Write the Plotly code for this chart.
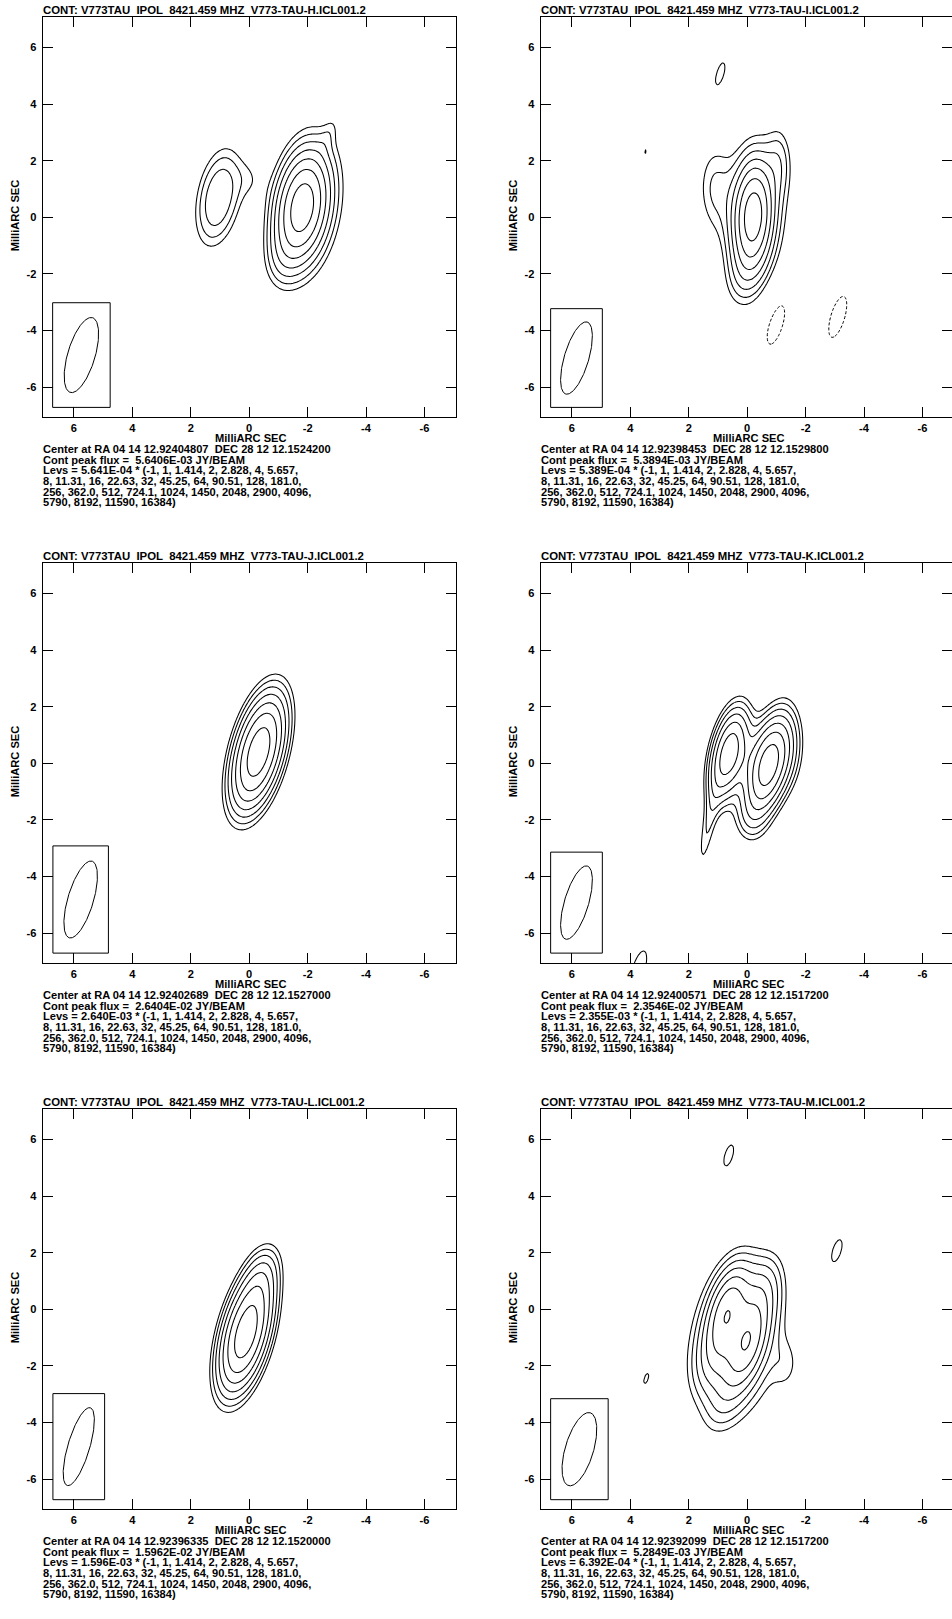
import numpy as np
import plotly.graph_objects as go

W, H = 952, 1619

# ---------------- data ----------------
PANEL_IDS = ["H", "I", "J", "K", "L", "M"]
CENTER_RA = ["12.92404807", "12.92398453", "12.92402689", "12.92400571", "12.92396335", "12.92392099"]
CENTER_DEC = ["12.1524200", "12.1529800", "12.1527000", "12.1517200", "12.1520000", "12.1517200"]
PEAK_FLUX = [5.6406e-3, 5.3894e-3, 2.6404e-2, 2.3546e-2, 1.5962e-2, 5.2849e-3]
BASE_LEVEL = [5.641e-4, 5.389e-4, 2.640e-3, 2.355e-3, 1.596e-3, 6.392e-4]

LEV_LABELS = ["-1", "1", "1.414", "2", "2.828", "4", "5.657",
              "8", "11.31", "16", "22.63", "32", "45.25", "64", "90.51", "128", "181.0",
              "256", "362.0", "512", "724.1", "1024", "1450", "2048", "2900", "4096",
              "5790", "8192", "11590", "16384"]
LEV_MULT = [float(s) for s in LEV_LABELS]
LEV_LINE_SPLIT = [7, 10, 9, 4]

# restoring beams (FWHM major, minor in mas, position angle in deg)
BEAM_MAJ = [2.75, 2.65, 2.82, 2.69, 2.86, 2.68]
BEAM_MIN = [0.94, 0.84, 0.88, 0.83, 0.75, 0.97]
BEAM_PA = [-16, -16, -16, -16, -16, -16]
# beam box (east edge, west edge, top, bottom) in mas
BEAM_BOX = [(6.73, 4.76, -3.02, -6.72), (6.73, 4.96, -3.23, -6.72),
            (6.72, 4.82, -2.92, -6.71), (6.73, 4.96, -3.14, -6.71),
            (6.72, 4.95, -2.98, -6.73), (6.73, 4.76, -3.16, -6.73)]

# source brightness components, relative to the map peak:
# (x offset mas, y offset mas, amplitude, fwhm maj, fwhm min, pa deg)
COMP_H = [(-1.80, 0.35, 0.85, 2.80, 1.25, -8), (-2.05, 0.45, 0.15, 4.60, 2.10, -8),
          (-2.75, 3.00, 0.05, 1.20, 0.45, -20), (-1.10, -1.50, 0.08, 1.80, 1.00, -5),
          (1.05, 0.70, 0.28, 2.85, 1.20, -10), (-0.05, 1.35, 0.06, 1.30, 0.80, 0)]
COMP_I = [(-0.20, 0.05, 0.85, 2.70, 0.95, -3), (-0.25, 0.10, 0.17, 4.60, 2.00, -2),
          (1.15, 1.10, 0.12, 2.60, 1.00, 0), (-1.10, 2.00, 0.12, 2.00, 0.70, 0),
          (0.10, -2.00, 0.10, 2.00, 1.00, -10)]
COMP_J = [(-0.32, 0.40, 1.00, 3.10, 1.18, -14)]
COMP_K = [(-0.70, -0.10, 0.90, 2.50, 1.00, -12), (0.62, 0.35, 0.66, 2.45, 0.90, -12),
          (-1.40, 0.60, 0.12, 2.60, 1.00, 0), (1.35, -2.30, 0.12, 3.00, 0.45, -10),
          (-0.10, -2.00, 0.10, 1.50, 1.00, 0)]
COMP_L = [(0.12, -0.85, 1.00, 3.15, 1.15, -14), (-0.45, 1.20, 0.15, 1.80, 0.90, -15)]
COMP_M = [(0.70, 0.00, 0.62, 2.20, 0.90, -15), (0.00, -1.25, 0.62, 2.20, 0.90, -15),
          (-0.45, 0.45, 0.25, 2.20, 1.00, -15), (1.05, -1.55, 0.25, 2.20, 1.00, -15),
          (0.35, -1.10, 0.28, 4.60, 2.60, -8), (0.75, -3.20, 0.12, 2.00, 1.00, -20),
          (-1.35, -2.00, 0.08, 1.50, 0.80, 0), (0.20, 1.30, 0.04, 2.00, 1.20, -15)]
COMPONENTS = [COMP_H, COMP_I, COMP_J, COMP_K, COMP_L, COMP_M]

# isolated noise peaks / holes (same format, amplitude relative to the map peak)
NOISE_H = []
NOISE_I = [(0.92, 5.10, 0.104, 2.65, 0.84, -16), (3.49, 2.31, 0.1003, 2.65, 0.84, -16),
           (-0.99, -3.70, -0.14, 2.65, 0.84, -16), (-3.10, -3.52, -0.125, 2.65, 0.84, -16)]
NOISE_J = []
NOISE_K = [(3.72, -7.30, 0.12, 2.69, 0.83, -16)]
NOISE_L = []
NOISE_M = [(0.63, 5.45, 0.127, 2.68, 0.97, -16), (-3.08, 2.09, 0.127, 2.68, 0.97, -16),
           (3.49, -2.49, 0.1165, 2.68, 0.97, -16)]
NOISE = [NOISE_H, NOISE_I, NOISE_J, NOISE_K, NOISE_L, NOISE_M]

TICK_VALS = [6, 4, 2, 0, -2, -4, -6]
TICK_TEXT = ["6", "4", "2", "0", "-2", "-4", "-6"]

# ---------------- layout (pixels) ----------------
COL_LEFT = [42.7, 540.7]
ROW_TOP = [17.3, 563.3, 1109.3]
FRAME_W, FRAME_H = 413.0, 400.0
HALF = 7.07
FONT = "Liberation Sans, Arial, Helvetica, sans-serif"
FS = 11.1
TFS = 11.4

grid = np.arange(-7.8, 7.8001, 0.06)
GX, GY = np.meshgrid(grid, grid)


def model(comps):
    z = np.zeros_like(GX)
    for (x0, y0, a, bmaj, bmin, pa) in comps:
        t = np.radians(pa)
        dx, dy = GX - x0, GY - y0
        u = dx * np.sin(t) + dy * np.cos(t)
        v = dx * np.cos(t) - dy * np.sin(t)
        z += a * np.exp(-4 * np.log(2) * ((u / bmaj) ** 2 + (v / bmin) ** 2))
    return z


def px2x(px):
    return px / W


def py2y(py):
    return 1 - py / H


fig = go.Figure()
annotations = []
shapes = []
layout_axes = {}
scale_x = FRAME_W / (2 * HALF)

for i, pid in enumerate(PANEL_IDS):
    row, col = divmod(i, 2)
    n = i + 1
    xa = "x" if n == 1 else f"x{n}"
    ya = "y" if n == 1 else f"y{n}"
    left = COL_LEFT[col]
    right = min(left + FRAME_W, W)
    top = ROW_TOP[row]
    bottom = top + FRAME_H
    xr_right = HALF - (right - left) / scale_x

    peak = PEAK_FLUX[i]
    base = BASE_LEVEL[i]
    src = model(COMPONENTS[i])
    img = (src / src.max() + model(NOISE[i])) * peak

    pos_mults = [m for m in LEV_MULT if m > 0 and m * base <= peak]
    step = np.log(np.sqrt(2.0))
    zt = np.where(img > 0, np.log(np.clip(img, 1e-30, None) / base) / step, -60.0).astype(np.float32)
    fig.add_trace(go.Contour(
        x=grid, y=grid, z=zt, xaxis=xa, yaxis=ya,
        autocontour=False,
        contours=dict(start=0, end=round(np.log(pos_mults[-1]) / step), size=1,
                      coloring="lines", showlines=True),
        colorscale=[[0, "black"], [1, "black"]], showscale=False,
        line=dict(width=1.05, smoothing=1.0), hoverinfo="skip"))

    neg = [m for m in LEV_MULT if m < 0]
    if img.min() < neg[0] * base:
        zn = (-img).astype(np.float32)
        lv = -neg[0] * base
        fig.add_trace(go.Contour(
            x=grid, y=grid, z=zn, xaxis=xa, yaxis=ya, autocontour=False,
            contours=dict(start=lv, end=lv * 1.2, size=lv, coloring="lines", showlines=True),
            colorscale=[[0, "black"], [1, "black"]], showscale=False,
            line=dict(width=1.0, dash="3px,2px", smoothing=1.0), hoverinfo="skip"))

    # restoring beam
    bx0, bx1, by0, by1 = BEAM_BOX[i]
    cx, cy = (bx0 + bx1) / 2, (by0 + by1) / 2
    tt = np.linspace(0, 2 * np.pi, 181)
    pa = np.radians(BEAM_PA[i])
    uu = BEAM_MAJ[i] / 2 * np.cos(tt)
    vv = BEAM_MIN[i] / 2 * np.sin(tt)
    fig.add_trace(go.Scatter(
        x=cx + uu * np.sin(pa) + vv * np.cos(pa), y=cy + uu * np.cos(pa) - vv * np.sin(pa),
        mode="lines", line=dict(color="black", width=1.0), xaxis=xa, yaxis=ya,
        showlegend=False, hoverinfo="skip"))
    shapes.append(dict(type="rect", xref=xa, yref=ya, x0=bx0, x1=bx1, y0=by0, y1=by1,
                       line=dict(color="black", width=1)))

    tickfont = dict(family=FONT, size=FS, color="black", weight="bold")
    axis_common = dict(showgrid=False, zeroline=False, showline=True, linecolor="black",
                       linewidth=1, mirror="ticks", ticks="inside", ticklen=10,
                       tickwidth=1, tickcolor="black", tickvals=TICK_VALS,
                       ticktext=TICK_TEXT, tickfont=tickfont)
    layout_axes["xaxis" if n == 1 else f"xaxis{n}"] = dict(
        axis_common, domain=[px2x(left), px2x(right)], range=[HALF, xr_right],
        anchor=ya, ticklabelstandoff=0)
    layout_axes["yaxis" if n == 1 else f"yaxis{n}"] = dict(
        axis_common, domain=[py2y(bottom), py2y(top)], range=[-HALF, HALF],
        anchor=xa, ticklabelstandoff=3)

    def txt(s, x, y, xanchor="left", angle=0, size=FS):
        annotations.append(dict(text=s, x=px2x(x), y=py2y(y), xref="paper", yref="paper",
                                xanchor=xanchor, yanchor="middle", showarrow=False,
                                textangle=angle, borderpad=0,
                                font=dict(family=FONT, size=size, color="black", weight="bold")))

    sp = "\u00a0"
    txt(f"CONT: V773TAU {sp}IPOL {sp}8421.459 MHZ {sp}V773-TAU-{pid}.ICL001.2", left - 1, top - 7.5,
        size=TFS)
    txt("MilliARC SEC", left + FRAME_W / 2 + 1.5, bottom + 20.3, xanchor="center")
    txt("MilliARC SEC", left - 27.7, top + FRAME_H / 2 - 2, xanchor="center", angle=-90)
    lines = [f"Center at RA 04 14 {CENTER_RA[i]} {sp}DEC 28 12 {CENTER_DEC[i]}",
             f"Cont peak flux = {sp}{peak:.4E} JY/BEAM"]
    k = 0
    lev_lines = []
    for cnt in LEV_LINE_SPLIT:
        lev_lines.append(", ".join(LEV_LABELS[k:k + cnt]))
        k += cnt
    lines.append(f"Levs = {base:.3E} * (" + lev_lines[0] + ",")
    lines.append(lev_lines[1] + ",")
    lines.append(lev_lines[2] + ",")
    lines.append(lev_lines[3] + ")")
    for j, s in enumerate(lines):
        txt(s, left - 1, bottom + 31.8 + j * 10.67)

fig.update_layout(width=W, height=H, margin=dict(l=0, r=0, t=0, b=0),
                  paper_bgcolor="white", plot_bgcolor="white", showlegend=False,
                  annotations=annotations, shapes=shapes, **layout_axes)
fig.write_html("out.html")
